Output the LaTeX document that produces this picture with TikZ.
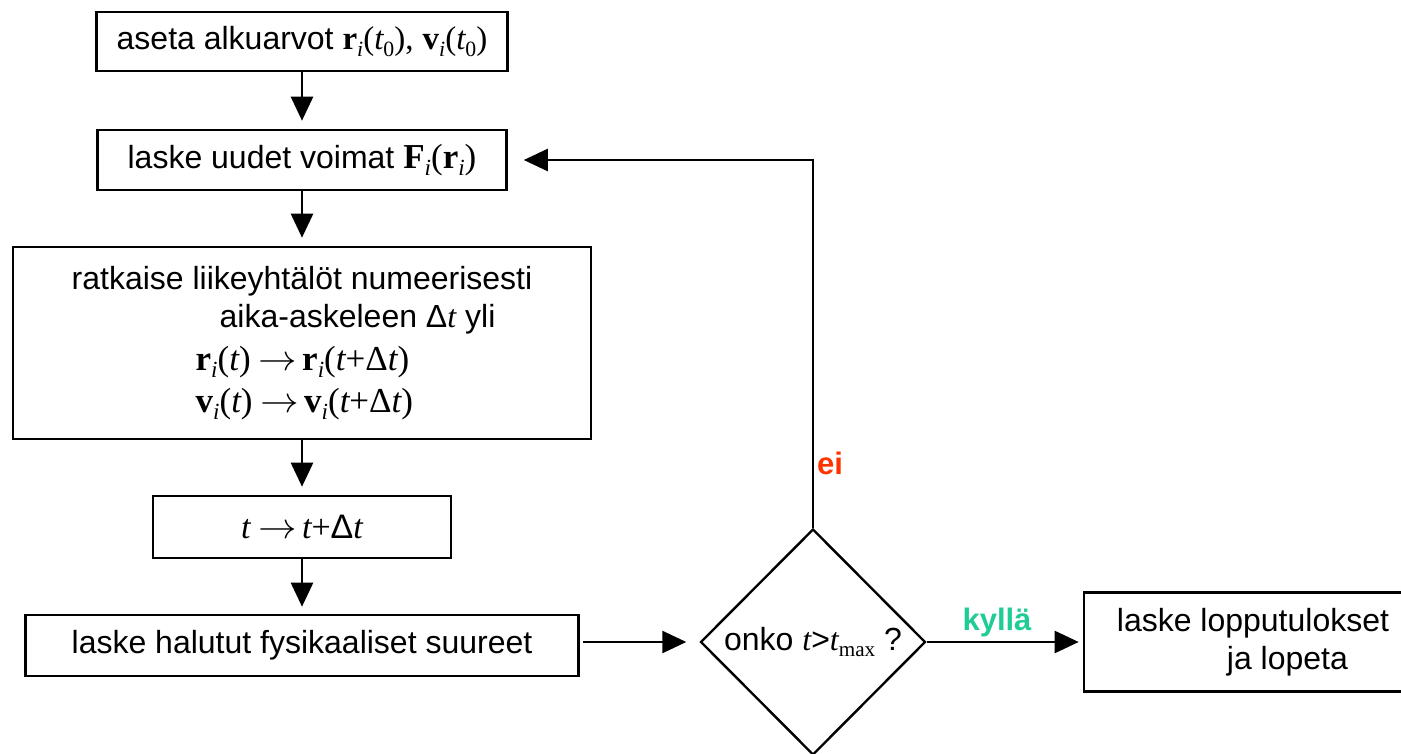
\documentclass[tikz,border=0pt]{standalone}
\usepackage{fontspec}
\setmainfont{Liberation Sans}
\newfontfamily\tnr{Liberation Serif}
\usetikzlibrary{arrows.meta,shapes.geometric}

\definecolor{noclr}{RGB}{255,51,0}
\definecolor{yesclr}{RGB}{32,204,150}

% bold vector, italic variable, subscripts (scaled from the current size)
\newcommand{\vb}[1]{{\tnr\bfseries #1}}
\newcommand{\vt}[1]{{\tnr\itshape #1}}
\newcommand{\sbi}[1]{\raisebox{-0.2em}{\scalebox{0.66}{\tnr\itshape #1}}}
\newcommand{\sbr}[1]{\raisebox{-0.2em}{\scalebox{0.66}{\tnr #1}}}
\newcommand{\tpar}[1]{{\tnr(}#1{\tnr)}}
\newcommand{\tto}{\hspace{8pt}\scalebox{1.55}[1.45]{$\rightarrow$}\hspace{5pt}}
\newcommand{\mth}{\fontsize{35}{40}\selectfont}

\begin{document}
\begin{tikzpicture}[x=1pt,y=-1pt,
  every node/.style={font=\fontsize{32}{38}\selectfont},
  stepbox/.style={draw,line width=2.6pt,inner sep=0pt},
  decision/.style={draw,diamond,line width=2.4pt,inner sep=0pt,
    minimum width=225pt,minimum height=226pt},
  flow/.style={line width=2.5pt,-{Triangle[length=24pt,width=22pt]}},
  nolbl/.style={font=\fontsize{31}{31}\selectfont\bfseries,text=noclr},
  yeslbl/.style={font=\fontsize{31}{31}\selectfont\bfseries,text=yesclr}]

\useasboundingbox (0,0) rectangle (1401,753);

% process boxes
\node[stepbox,minimum width=411pt,minimum height=59pt] (n1) at (302,41.5)
  {aseta alkuarvot {\fontsize{33}{38}\selectfont\vb{r}\sbi{i}\tpar{\vt{t}\sbr{0}}{\tnr,} \vb{v}\sbi{i}\tpar{\vt{t}\sbr{0}}}};
\node[stepbox,minimum width=409pt,minimum height=60pt] (n2) at (302,160)
  {laske uudet voimat {\mth\vb{F}\sbi{i}\tpar{\vb{r}\sbi{i}}}};
\node[stepbox,minimum width=578pt,minimum height=192pt,align=left] (n3) at (302,343)
  {ratkaise liikeyhtälöt numeerisesti\\
   \hspace*{148pt}aika-askeleen Δ\vt{t} yli\\[5pt]
   \hspace*{124pt}{\mth\vb{r}\sbi{i}\tpar{\vt{t}}\tto\vb{r}\sbi{i}\tpar{\vt{t}{\tnr+Δ}\vt{t}}}\\[4pt]
   \hspace*{124pt}{\mth\vb{v}\sbi{i}\tpar{\vt{t}}\tto\vb{v}\sbi{i}\tpar{\vt{t}{\tnr+Δ}\vt{t}}}};
\node[stepbox,minimum width=298pt,minimum height=62pt] (n4) at (302,527)
  {{\fontsize{34}{38}\selectfont\vt{t}\tto\vt{t}{\tnr+}Δ\vt{t}}};
\node[stepbox,minimum width=553pt,minimum height=61pt] (n5) at (302,645.5)
  {laske halutut fysikaaliset suureet};

% decision
\node[decision] (d) at (813,642)
  {onko \vt{t}>\vt{t}\sbr{max} ?};

% final box (runs past the right edge)
\node[stepbox,minimum width=322pt,minimum height=99pt,align=left] (n7) at (1245,642)
  {\hspace*{16pt}laske lopputulokset\\ \hspace*{126pt}ja lopeta};

% connectors
\draw[flow,shorten >=8pt] (n1.south) -- (n1.south |- n2.north);
\draw[flow,shorten >=8pt] (n2.south) -- (n2.south |- n3.north);
\draw[flow,shorten >=8pt] (n3.south) -- (n3.south |- n4.north);
\draw[flow,shorten >=7pt] (n4.south) -- (n4.south |- n5.north);
\draw[flow,shorten >=13pt,shorten <=3pt] (n5.east |- d.west) -- (d.west);
\draw[flow,shorten >=16pt] (d.north) |- (n2.east);
\draw[flow,shorten >=4pt] (d.east) -- (n7.west);

% branch labels
\node[nolbl] (ei) at (830,463) {ei};
\node[yeslbl] (kylla) at (997,622) {kyllä};
\end{tikzpicture}
\end{document}
